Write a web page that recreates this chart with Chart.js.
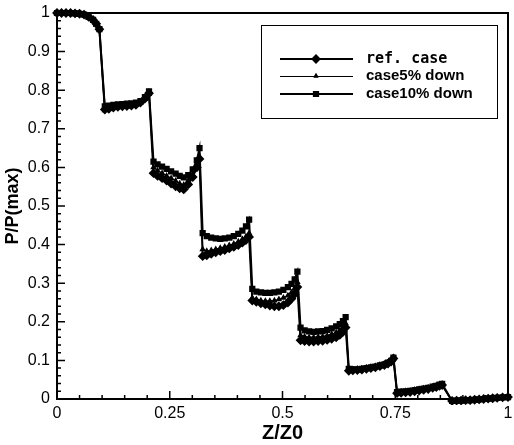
<!DOCTYPE html>
<html>
<head>
<meta charset="utf-8">
<script src="https://cdn.jsdelivr.net/npm/chart.js@4/dist/chart.umd.min.js"></script>
<style>
  html, body { margin: 0; padding: 0; background: #fff; }
  #wrap { width: 514px; height: 445px; }
</style>
</head>
<body>
<div id="wrap"><canvas id="myChart" width="514" height="445"></canvas></div>
<script>
// Z/Z0 positions (shared by all three cases)
const zPos = [
  0, 0.01, 0.02, 0.03, 0.04, 0.05, 0.06, 0.07, 0.08, 0.087, 0.094,
  0.106, 0.115, 0.125, 0.135, 0.145, 0.155, 0.165, 0.175, 0.185, 0.195, 0.204,
  0.214, 0.223, 0.233, 0.243, 0.253, 0.263, 0.272, 0.281, 0.291, 0.301, 0.31, 0.316,
  0.323, 0.332, 0.342, 0.352, 0.362, 0.372, 0.382, 0.392, 0.402, 0.411, 0.419, 0.426,
  0.433, 0.442, 0.452, 0.462, 0.472, 0.482, 0.492, 0.502, 0.512, 0.52, 0.527, 0.533,
  0.54, 0.549, 0.559, 0.569, 0.579, 0.589, 0.599, 0.609, 0.619, 0.627, 0.634, 0.64,
  0.647, 0.656, 0.666, 0.676, 0.686, 0.696, 0.706, 0.716, 0.726, 0.734, 0.741, 0.746,
  0.754, 0.763, 0.773, 0.783, 0.793, 0.803, 0.813, 0.823, 0.833, 0.841, 0.848, 0.854,
  0.876, 0.886, 0.896, 0.906, 0.916, 0.926, 0.936, 0.946, 0.956, 0.966, 0.976, 0.988, 1.0
];

const refCase = [
  1, 1, 1, 1, 0.999, 0.998, 0.996, 0.99, 0.982, 0.972, 0.958,
  0.75, 0.752, 0.755, 0.757, 0.758, 0.759, 0.76, 0.762, 0.768, 0.778, 0.792,
  0.585, 0.578, 0.572, 0.566, 0.558, 0.551, 0.546, 0.543, 0.556, 0.575, 0.6, 0.622,
  0.37, 0.372, 0.376, 0.38, 0.383, 0.386, 0.39, 0.394, 0.399, 0.405, 0.412, 0.42,
  0.255, 0.252, 0.248, 0.245, 0.242, 0.24, 0.24, 0.243, 0.25, 0.26, 0.272, 0.29,
  0.152, 0.15, 0.149, 0.149, 0.15, 0.151, 0.153, 0.156, 0.16, 0.166, 0.174, 0.185,
  0.073, 0.074, 0.075, 0.076, 0.078, 0.08, 0.082, 0.085, 0.088, 0.092, 0.097, 0.105,
  0.015, 0.016, 0.017, 0.018, 0.02, 0.022, 0.024, 0.026, 0.029, 0.031, 0.034, 0.036,
  -0.005, -0.004, -0.004, -0.003, -0.003, -0.002, -0.001, 0, 0.001, 0.002, 0.003, 0.004, 0.005
];

const case5Down = [
  1, 1, 1, 1, 0.999, 0.998, 0.996, 0.99, 0.982, 0.972, 0.958,
  0.748, 0.751, 0.754, 0.756, 0.757, 0.758, 0.76, 0.762, 0.767, 0.777, 0.79,
  0.6, 0.592, 0.585, 0.578, 0.572, 0.565, 0.558, 0.555, 0.566, 0.582, 0.604, 0.628,
  0.388, 0.383, 0.385, 0.388, 0.391, 0.394, 0.398, 0.402, 0.408, 0.414, 0.421, 0.43,
  0.262, 0.258, 0.255, 0.254, 0.254, 0.255, 0.258, 0.262, 0.268, 0.276, 0.287, 0.303,
  0.165, 0.162, 0.16, 0.16, 0.161, 0.162, 0.164, 0.168, 0.172, 0.178, 0.186, 0.196,
  0.075, 0.075, 0.076, 0.077, 0.079, 0.081, 0.083, 0.086, 0.089, 0.093, 0.098, 0.106,
  0.016, 0.017, 0.018, 0.019, 0.021, 0.023, 0.025, 0.027, 0.03, 0.032, 0.035, 0.037,
  -0.005, -0.004, -0.004, -0.003, -0.003, -0.002, -0.001, 0, 0.001, 0.002, 0.003, 0.004, 0.005
];

const case10Down = [
  1, 1, 1, 1, 0.999, 0.998, 0.996, 0.99, 0.982, 0.972, 0.958,
  0.758, 0.76, 0.762, 0.763, 0.764, 0.765, 0.766, 0.768, 0.772, 0.782, 0.797,
  0.615, 0.608, 0.602, 0.596, 0.59, 0.584, 0.578, 0.574, 0.58, 0.595, 0.618, 0.65,
  0.43, 0.422, 0.418, 0.416, 0.415, 0.416, 0.418, 0.422, 0.428, 0.436, 0.447, 0.465,
  0.285, 0.278, 0.276, 0.275, 0.275, 0.276, 0.278, 0.283, 0.29, 0.298, 0.31, 0.33,
  0.185, 0.178, 0.175, 0.174, 0.175, 0.176, 0.179, 0.183, 0.188, 0.194, 0.202, 0.212,
  0.078, 0.077, 0.077, 0.078, 0.08, 0.082, 0.084, 0.087, 0.09, 0.094, 0.099, 0.107,
  0.018, 0.019, 0.02, 0.021, 0.023, 0.025, 0.027, 0.029, 0.032, 0.034, 0.037, 0.039,
  -0.005, -0.004, -0.004, -0.003, -0.003, -0.002, -0.001, 0, 0.001, 0.002, 0.003, 0.004, 0.005
];

const seriesNames = ["ref. case", "case5% down", "case10% down"];
const xTicks = [0, 0.25, 0.5, 0.75, 1];
const yTicks = [0, 0.1, 0.2, 0.3, 0.4, 0.5, 0.6, 0.7, 0.8, 0.9, 1];

function toPoints(vals) {
  return zPos.map((z, i) => ({ x: z, y: vals[i] }));
}

// inward ticks, frame box and the legend box
const framePlugin = {
  id: "frame",
  afterDraw(chart) {
    const ctx = chart.ctx;
    const a = chart.chartArea;
    const xs = chart.scales.x;
    const ys = chart.scales.y;
    ctx.save();
    ctx.strokeStyle = "#000";
    ctx.lineWidth = 2;
    ctx.strokeRect(a.left, a.top, a.right - a.left, a.bottom - a.top);

    ctx.lineWidth = 1.5;
    ctx.beginPath();
    for (let i = 0; i <= 20; i++) {
      const v = i * 0.05;
      const px = xs.getPixelForValue(v);
      const len = i % 5 === 0 ? 8 : 4;
      ctx.moveTo(px, a.bottom);
      ctx.lineTo(px, a.bottom - len);
    }
    for (let i = 0; i <= 50; i++) {
      const v = i * 0.02;
      const py = ys.getPixelForValue(v);
      const len = i % 5 === 0 ? 8 : 4;
      ctx.moveTo(a.left, py);
      ctx.lineTo(a.left + len, py);
    }
    ctx.stroke();

    // legend
    ctx.lineWidth = 1;
    ctx.strokeRect(261.5, 25.5, 236, 93);
    const rows = [59, 76, 94];
    chart.data.datasets.forEach((ds, i) => {
      const y = rows[i];
      ctx.strokeStyle = "#000";
      ctx.lineWidth = i === 1 ? 1 : 2;
      ctx.beginPath();
      ctx.moveTo(280, i === 1 ? y + 0.5 : y);
      ctx.lineTo(353, i === 1 ? y + 0.5 : y);
      ctx.stroke();
      Chart.helpers.drawPoint(ctx, {
        pointStyle: ds.pointStyle,
        radius: ds.pointRadius,
        borderWidth: 1
      }, 316, y);
      ctx.fillStyle = "#000";
      ctx.textBaseline = "middle";
      ctx.textAlign = "left";
      ctx.font = i === 0 ? "bold 15px 'DejaVu Sans Mono'" : "bold 15px 'Liberation Sans'";
      ctx.fillText(ds.label, 366, y);
    });
    ctx.restore();
  }
};

const ctx = document.getElementById("myChart").getContext("2d");
new Chart(ctx, {
  type: "line",
  data: {
    datasets: [
      {
        label: seriesNames[0],
        data: toPoints(refCase),
        borderColor: "#000",
        backgroundColor: "#000",
        borderWidth: 2,
        pointStyle: "rectRot",
        pointRadius: 3.5,
        clip: 6
      },
      {
        label: seriesNames[1],
        data: toPoints(case5Down),
        borderColor: "#000",
        backgroundColor: "#000",
        borderWidth: 1.3,
        pointStyle: "triangle",
        pointRadius: 2.5,
        clip: 6
      },
      {
        label: seriesNames[2],
        data: toPoints(case10Down),
        borderColor: "#000",
        backgroundColor: "#000",
        borderWidth: 2,
        pointStyle: "rect",
        pointRadius: 3,
        clip: 6
      }
    ]
  },
  options: {
    responsive: false,
    animation: false,
    layout: { padding: { top: 13, right: 1, left: 0, bottom: 0 } },
    plugins: {
      legend: { display: false },
      tooltip: { enabled: false }
    },
    elements: { line: { tension: 0 } },
    scales: {
      x: {
        type: "linear",
        min: 0,
        max: 1,
        afterBuildTicks: (s) => { s.ticks = xTicks.map(v => ({ value: v })); },
        afterFit: (s) => { s.height = 46; s.paddingLeft = 0; s.paddingRight = 0; },
        grid: { display: false, drawTicks: false },
        border: { display: false },
        ticks: {
          color: "#000",
          padding: 5,
          font: { family: "'Liberation Sans', Arial", size: 16 },
          maxRotation: 0,
          callback: (v) => String(v)
        },
        title: {
          display: true,
          text: "Z/Z0",
          color: "#000",
          padding: { top: 0, bottom: 0 },
          font: { family: "'Liberation Sans', Arial", size: 20, weight: "bold" }
        }
      },
      y: {
        min: 0,
        max: 1,
        afterBuildTicks: (s) => { s.ticks = yTicks.map(v => ({ value: v })); },
        afterFit: (s) => { s.width = 57; s.paddingTop = 0; s.paddingBottom = 0; },
        grid: { display: false, drawTicks: false },
        border: { display: false },
        ticks: {
          color: "#000",
          padding: 7,
          font: { family: "'Liberation Sans', Arial", size: 16 },
          callback: (v) => String(v)
        },
        title: {
          display: true,
          text: "P/P(max)",
          color: "#000",
          padding: { top: 2, bottom: 0 },
          font: { family: "'Liberation Sans', Arial", size: 18, weight: "bold" }
        }
      }
    }
  },
  plugins: [framePlugin]
});
</script>
</body>
</html>
